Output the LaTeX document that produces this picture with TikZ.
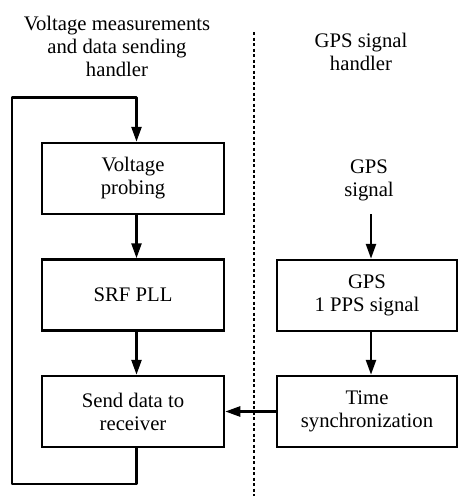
\documentclass[tikz,border=0pt]{standalone}
\usepackage{fontspec}
\setmainfont{Liberation Serif}
\usetikzlibrary{arrows.meta}
\begin{document}
\begin{tikzpicture}[x=1pt,y=-1pt,
  box/.style={draw,line width=2.5pt,rectangle,minimum width=182pt,minimum height=71pt,align=center,inner sep=0pt},
  txt/.style={align=center,inner sep=0pt},
  arr/.style={line width=2.5pt,-{Triangle[length=15pt,width=10pt]}},
  font=\fontsize{20.7}{23}\selectfont]
\useasboundingbox (0,0) rectangle (459,496);
% titles
\node[txt] (t1) at (117,46) {Voltage measurements\\and data sending\\handler};
\node[txt] (t2) at (361,52) {GPS signal\\handler};
% divider
\coordinate (d1) at (254,32);
\coordinate (d2) at (254,496);
\draw[line width=2.5pt,dash pattern=on 3pt off 2.5pt] (d1) -- (d2);
% left column
\node[box] (vp) at (133,178.5) {Voltage\\probing};
\node[box] (srf) at (133,295) {SRF PLL};
\node[box] (send) at (133,411.5) {Send data to\\receiver};
% right column
\node[txt] (gsig) at (369,180) {GPS\\signal};
\node[box,minimum width=180pt] (gps) at (367,295.5) {GPS\\1 PPS signal};
\node[box,minimum width=180pt] (ts) at (367,411.5) {Time\\synchronization};
% connectors
\draw[arr] ([xshift=3.5pt]vp.south) -- ([xshift=3.5pt]srf.north);
\draw[arr] ([xshift=3.5pt]srf.south) -- ([xshift=3.5pt]send.north);
\coordinate (l1) at (136.5,484);
\coordinate (l2) at (12,484);
\coordinate (l3) at (12,97.5);
\coordinate (l4) at (136.5,97.5);
\draw[arr,line join=round] ([xshift=3.5pt]send.south) -- (l1) -- (l2) -- (l3) -- (l4) -- ([xshift=3.5pt]vp.north);
\coordinate (g1) at (371,214);
\draw[arr] (g1) -- (g1 |- gps.north);
\draw[arr] ([xshift=4pt]gps.south) -- ([xshift=4pt]ts.north);
\draw[arr] (ts.west) -- (send.east);
\end{tikzpicture}
\end{document}
